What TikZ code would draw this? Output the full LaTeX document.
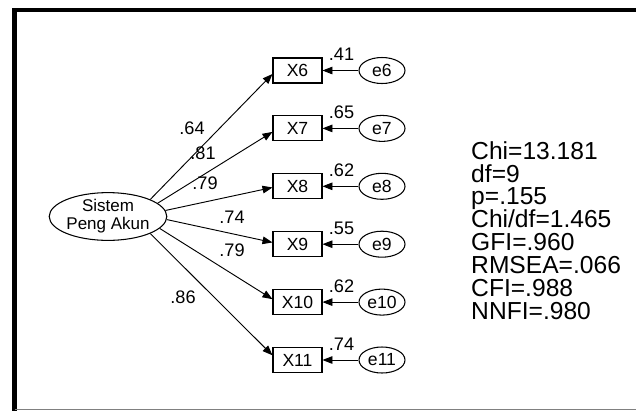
\documentclass[tikz,border=0pt]{standalone}
\usepackage{fontspec}
\setmainfont{Liberation Sans}
\usetikzlibrary{shapes.geometric, arrows.meta}

\begin{document}
\begin{tikzpicture}[x=0.03cm, y=-0.03cm,
        obs/.style={draw, line width=0.9pt, minimum width=1.47cm, minimum height=0.75cm, inner sep=0pt, font=\fontsize{15}{16}\selectfont},
        lat/.style={draw, ellipse, line width=0.9pt, minimum width=3.06cm, minimum height=1.41cm, inner sep=0pt, align=center, font=\fontsize{14.5}{15.3}\selectfont},
        err/.style={draw, ellipse, line width=0.9pt, minimum width=1.38cm, minimum height=0.78cm, inner sep=0pt, font=\fontsize{15}{16}\selectfont},
        lbl/.style={inner sep=0pt, font=\fontsize{15.5}{16}\selectfont},
        load/.style={-{Triangle[length=8.5pt, width=6.5pt]}, line width=0.8pt},
        stats/.style={inner sep=0pt, align=left, font=\fontsize{21}{19.6}\selectfont}]
        \useasboundingbox (0, 0) rectangle (636, 411);

        % frame of the scan
        \draw[line width=3.4pt] (12, 10) -- (636, 10);
        \draw[line width=4.2pt] (14.5, 8) -- (14.5, 411);
        \draw[gray, line width=0.8pt] (14.5, 409) -- (636, 409);

        \node[lat] (spa) at (108, 216.5) {Sistem\\Peng Akun};

        \node[obs] (x6) at (297.5, 70.5) {X6};
        \node[obs] (x7) at (297.5, 128.4) {X7};
        \node[obs] (x8) at (297.5, 186.3) {X8};
        \node[obs] (x9) at (297.5, 244.2) {X9};
        \node[obs] (x10) at (297.5, 302.1) {X10};
        \node[obs] (x11) at (297.5, 360) {X11};

        \node[err] (e6) at (382, 70.5) {e6};
        \node[err] (e7) at (382, 128.4) {e7};
        \node[err] (e8) at (382, 186.3) {e8};
        \node[err] (e9) at (382, 244.2) {e9};
        \node[err] (e10) at (382, 302.1) {e10};
        \node[err] (e11) at (382, 360) {e11};

        % loadings
        \draw[load] (spa.22) -- ([yshift=-3pt]x6.west);
        \draw[load] (spa.15) -- ([yshift=-3pt]x7.west);
        \draw[load] (spa.6) -- ([yshift=-1pt]x8.west);
        \draw[load] (spa.-3) -- ([yshift=1.5pt]x9.west);
        \draw[load] (spa.-13) -- ([yshift=2.5pt]x10.west);
        \draw[load] (spa.-22) -- ([yshift=4pt]x11.west);

        \node[lbl] (w6) at (192, 128) {.64};
        \node[lbl] (w7) at (203, 153) {.81};
        \node[lbl] (w8) at (205, 183) {.79};
        \node[lbl] (w9) at (232, 217) {.74};
        \node[lbl] (w10) at (232, 250) {.79};
        \node[lbl] (w11) at (183, 297) {.86};

        % error terms
        \draw[load] (e6) -- (x6);
        \draw[load] (e7) -- (x7);
        \draw[load] (e8) -- (x8);
        \draw[load] (e9) -- (x9);
        \draw[load] (e10) -- (x10);
        \draw[load] (e11) -- (x11);

        \node[lbl] (r6) at (341.5, 54.5) {.41};
        \node[lbl] (r7) at (341.5, 112.4) {.65};
        \node[lbl] (r8) at (341.5, 170.3) {.62};
        \node[lbl] (r9) at (341.5, 228.2) {.55};
        \node[lbl] (r10) at (341.5, 286.1) {.62};
        \node[lbl] (r11) at (341.5, 344) {.74};

        \node[stats, anchor=north west] (fit) at (471, 141) {Chi=13.181\\df=9\\p=.155\\Chi/df=1.465\\GFI=.960\\RMSEA=.066\\CFI=.988\\NNFI=.980};
\end{tikzpicture}
\end{document}
